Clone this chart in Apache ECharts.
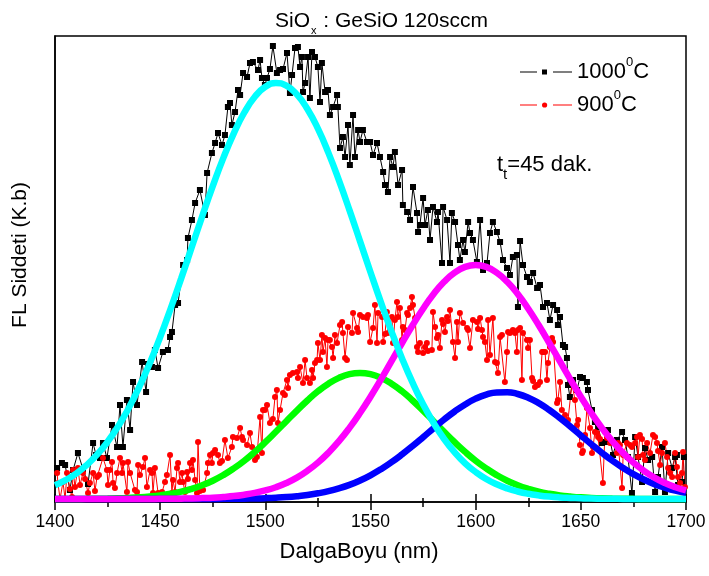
<!DOCTYPE html>
<html>
<head>
<meta charset="utf-8">
<script src="https://cdn.jsdelivr.net/npm/echarts@6/dist/echarts.min.js"></script>
<style>html,body{margin:0;padding:0;background:#fff}#c{width:709px;height:576px}</style>
</head>
<body>
<div id="c"></div>
<script>
// ---- DATA ----
const xTicks = [1400, 1450, 1500, 1550, 1600, 1650, 1700];
const seriesNames = ['1000°C', '900°C'];

// measured spectrum, 1000 C  [wavelength nm, intensity a.u.]
const black1000 = [[1401.0,31],[1403.3,36],[1404.8,34],[1407.1,9],[1408.6,29],[1410.9,46],[1413.3,30],[1415.7,15],[1418.1,56],[1419.5,44],[1421.4,41],[1422.8,56],[1424.7,41],[1427.1,74],[1429.5,52],[1430.9,94],[1432.3,52],[1434.2,99],[1435.7,69],[1437.1,117],[1439.0,94],[1441.4,137],[1443.3,107],[1444.2,135],[1446.1,132],[1447.5,149],[1449.0,131],[1451.3,147],[1453.7,149],[1454.7,162],[1455.6,167],[1457.1,194],[1458.5,196],[1460.9,234],[1462.8,239],[1463.2,261],[1465.1,279],[1466.6,296],[1468.9,309],[1471.3,284],[1472.3,326],[1474.6,346],[1476.1,356],[1477.5,366],[1479.4,354],[1480.8,364],[1482.2,392],[1483.2,396],[1484.1,374],[1485.6,387],[1487.0,409],[1488.0,404],[1489.4,426],[1491.3,422],[1492.7,436],[1494.1,437],[1496.5,429],[1497.5,439],[1498.4,421],[1499.8,414],[1500.8,421],[1502.2,430],[1503.6,453],[1505.5,426],[1507.0,429],[1508.4,430],[1510.3,446],[1511.7,406],[1512.7,424],[1514.1,451],[1515.5,452],[1516.5,432],[1517.4,442],[1517.9,407],[1518.9,416],[1520.3,442],[1521.2,401],[1522.2,447],[1523.6,442],[1525.0,432],[1526.0,397],[1526.9,436],[1528.4,407],[1529.8,409],[1530.7,384],[1532.2,392],[1534.1,404],[1534.5,392],[1535.5,351],[1536.9,362],[1537.9,342],[1539.3,374],[1540.2,334],[1541.7,384],[1542.6,342],[1544.1,369],[1545.0,357],[1546.4,369],[1548.3,357],[1549.8,357],[1551.2,344],[1553.1,356],[1554.5,342],[1556.0,327],[1556.9,314],[1558.3,307],[1559.3,342],[1560.7,332],[1561.6,347],[1563.1,314],[1565.0,329],[1565.4,294],[1567.4,287],[1568.8,279],[1570.2,312],[1572.1,286],[1572.6,267],[1573.5,274],[1575.0,301],[1575.9,274],[1577.3,289],[1578.3,259],[1579.7,292],[1581.6,277],[1582.1,287],[1584.0,236],[1584.5,292],[1586.4,279],[1587.8,236],[1588.7,286],[1590.2,277],[1591.6,254],[1592.5,239],[1594.0,259],[1594.9,247],[1596.4,277],[1597.3,266],[1598.7,259],[1600.6,237],[1602.1,279],[1603.5,229],[1605.4,236],[1606.8,266],[1608.2,277],[1610.1,267],[1611.6,257],[1613.0,239],[1614.9,231],[1616.3,224],[1617.7,242],[1619.6,244],[1620.1,192],[1621.1,258],[1622.5,234],[1624.4,222],[1625.8,217],[1627.3,226],[1629.2,211],[1630.6,214],[1632.0,192],[1633.9,196],[1635.3,179],[1636.8,194],[1638.7,189],[1639.1,174],[1640.1,182],[1641.5,154],[1642.5,152],[1643.4,141],[1643.9,114],[1644.8,102],[1646.3,119],[1648.2,109],[1649.6,122],[1651.0,121],[1652.9,117],[1653.4,109],[1655.3,89],[1656.7,77],[1658.2,72],[1660.1,56],[1661.5,57],[1662.9,69],[1665.3,44],[1667.2,59],[1669.6,67],[1671.0,59],[1672.4,42],[1674.3,6],[1675.8,62],[1677.2,42],[1679.1,17],[1680.5,51],[1682.0,39],[1683.9,42],[1685.3,7],[1686.7,22],[1688.6,52],[1690.0,7],[1691.5,46],[1693.4,31],[1694.8,42],[1695.7,44],[1696.2,14],[1698.1,17],[1699.0,42]];

// measured spectrum, 900 C
const red900 = [[1401.0,26],[1401.4,16],[1402.4,0],[1403.8,17],[1404.8,0],[1405.7,26],[1407.1,10],[1408.1,2],[1408.6,29],[1409.5,12],[1410.9,31],[1411.9,14],[1413.3,26],[1414.3,20],[1415.7,6],[1416.6,16],[1418.1,26],[1419.0,8],[1420.0,22],[1420.9,24],[1422.8,41],[1424.7,29],[1425.2,14],[1426.1,29],[1427.1,37],[1427.6,16],[1428.5,11],[1429.5,26],[1430.9,41],[1431.9,26],[1432.3,36],[1434.2,7],[1434.7,37],[1435.7,26],[1438.0,9],[1439.0,7],[1439.5,34],[1440.4,24],[1441.8,32],[1442.8,41],[1443.7,12],[1445.2,29],[1446.1,26],[1446.6,6],[1447.5,31],[1449.0,6],[1450.9,7],[1452.3,17],[1453.2,24],[1454.7,44],[1455.6,6],[1456.1,19],[1457.1,7],[1458.0,31],[1458.5,36],[1459.4,17],[1460.4,26],[1460.9,17],[1461.8,7],[1462.8,27],[1463.2,20],[1464.2,36],[1465.1,29],[1465.6,39],[1466.6,19],[1467.5,6],[1468.0,57],[1468.9,8],[1470.4,9],[1472.3,26],[1472.7,36],[1473.7,44],[1474.6,36],[1475.1,46],[1476.1,49],[1477.5,44],[1478.4,36],[1479.4,38],[1480.8,59],[1482.2,41],[1484.1,52],[1484.6,62],[1486.5,61],[1488.0,71],[1488.9,62],[1489.4,59],[1491.3,54],[1492.7,66],[1493.7,52],[1495.1,39],[1496.0,42],[1497.5,82],[1498.4,46],[1498.9,89],[1499.8,89],[1500.8,94],[1502.2,76],[1503.6,80],[1504.6,102],[1505.5,109],[1506.0,76],[1507.0,89],[1508.4,106],[1509.3,104],[1510.3,119],[1510.8,111],[1511.7,124],[1513.1,126],[1515.1,127],[1515.5,121],[1516.5,132],[1517.9,116],[1518.9,139],[1519.8,121],[1521.2,116],[1522.2,129],[1522.7,121],[1523.6,136],[1524.6,139],[1525.0,156],[1526.0,139],[1526.9,164],[1527.4,147],[1528.4,161],[1529.3,132],[1529.8,159],[1530.7,159],[1531.7,152],[1532.2,141],[1533.1,164],[1534.1,156],[1535.5,174],[1536.5,177],[1536.9,166],[1537.9,141],[1538.8,139],[1539.3,172],[1541.2,166],[1541.7,186],[1543.6,171],[1544.1,167],[1545.0,184],[1546.4,182],[1548.3,181],[1548.8,184],[1549.8,157],[1551.2,171],[1552.1,194],[1553.1,156],[1553.6,186],[1555.5,182],[1556.0,157],[1556.9,165],[1557.8,187],[1558.3,166],[1560.2,182],[1560.7,156],[1561.6,179],[1562.6,197],[1563.1,182],[1564.0,191],[1565.0,159],[1565.4,172],[1566.4,169],[1567.4,186],[1567.8,184],[1568.8,191],[1569.7,202],[1570.2,194],[1571.2,181],[1572.1,152],[1572.6,147],[1573.5,156],[1575.0,146],[1575.9,152],[1576.8,156],[1577.3,148],[1579.2,149],[1579.7,187],[1580.7,172],[1581.6,161],[1582.1,164],[1583.0,151],[1584.0,179],[1584.5,175],[1585.4,167],[1586.4,182],[1586.8,178],[1587.8,189],[1589.2,157],[1590.2,141],[1591.1,177],[1591.6,157],[1592.5,186],[1594.0,176],[1595.9,171],[1596.4,169],[1597.3,151],[1598.7,179],[1600.6,177],[1601.1,170],[1602.1,181],[1603.0,169],[1603.5,162],[1604.4,157],[1605.4,139],[1605.9,179],[1606.8,144],[1608.2,181],[1609.2,137],[1610.1,136],[1610.6,126],[1611.6,162],[1612.5,164],[1613.9,117],[1614.9,147],[1615.4,167],[1616.3,166],[1617.7,169],[1618.7,166],[1619.6,147],[1620.1,169],[1621.1,171],[1622.0,119],[1622.5,166],[1624.4,159],[1624.9,151],[1625.8,159],[1626.8,121],[1627.3,118],[1628.2,112],[1629.2,114],[1629.6,114],[1630.6,117],[1631.6,147],[1632.0,147],[1633.0,147],[1633.9,119],[1634.4,136],[1635.3,152],[1636.3,161],[1636.8,157],[1638.7,96],[1639.1,99],[1640.1,117],[1641.0,89],[1642.5,84],[1643.9,79],[1645.8,116],[1647.2,99],[1648.2,74],[1648.7,79],[1649.6,54],[1650.6,46],[1651.0,48],[1652.0,64],[1652.9,91],[1654.4,71],[1655.3,46],[1655.8,52],[1656.7,67],[1657.7,66],[1658.2,62],[1659.1,60],[1660.5,16],[1661.5,67],[1662.4,61],[1663.9,56],[1665.3,57],[1667.2,46],[1667.7,56],[1668.6,54],[1669.6,11],[1670.1,44],[1671.9,56],[1673.4,54],[1674.3,52],[1675.8,56],[1676.7,62],[1677.2,42],[1678.1,64],[1679.1,60],[1679.6,44],[1680.5,39],[1681.5,56],[1682.9,46],[1684.3,64],[1685.3,62],[1686.2,56],[1686.7,48],[1687.7,34],[1688.6,46],[1690.0,56],[1691.0,42],[1691.5,31],[1692.4,26],[1693.4,22],[1694.8,46],[1695.7,32],[1696.2,22],[1697.2,16],[1698.1,26],[1698.6,47],[1699.5,12]];

// fitted peak curves, sampled every 5 nm from 1400 to 1700
const fitStart = 1400, fitStep = 5;
const fitCyan = [13.7,18.8,25.4,33.8,44.3,57.2,72.6,90.7,111.8,135.6,161.9,190.5,220.6,251.7,282.8,312.8,340.9,365.7,386.5,402.2,412.2,416,413.4,404.6,390.0,370.3,346.1,318.6,288.9,257.9,226.8,196.4,167.4,140.6,116.3,94.7,76.0,60.0,46.7,35.7,27.0,20.0,14.7,10.6,7.5,5.2,3.6,2.4,1.6,1.1,0.7,0.4,0.3,0.2,0.1,0,0,0,0,0,0];
const fitGreen = [0.03,0.06,0.1,0.16,0.27,0.44,0.69,1.08,1.65,2.47,3.6,5.2,7.3,10.2,13.8,18.3,23.9,30.6,38.3,47.1,56.8,67.2,77.8,88.4,98.5,107.7,115.3,121.1,124.8,126,124.8,121.1,115.3,107.7,98.5,88.4,77.8,67.2,56.8,47.1,38.3,30.6,23.9,18.3,13.8,10.2,7.3,5.2,3.6,2.5,1.65,1.1,0.7,0.44,0.27,0.16,0.1,0.06,0.03,0.02,0.01];
const fitMagenta = [0,0,0,0,0.01,0.01,0.02,0.03,0.05,0.08,0.14,0.22,0.36,0.56,0.9,1.3,2.0,2.9,4.3,6.1,8.6,11.8,16.0,21.4,28.2,36.4,46.3,57.8,71.1,86.0,102.3,119.7,137.8,156.0,173.7,190.3,205.0,217.2,226.4,232.1,234,232.1,226.4,217.2,205.0,190.3,173.7,156.0,137.8,119.7,102.3,86.0,71.1,57.8,46.3,36.4,28.2,21.4,16.0,11.8,8.6];
const fitBlue = [0,0,0,0,0,0,0,0,0,0,0,0.01,0.02,0.03,0.05,0.08,0.13,0.21,0.34,0.54,0.84,1.28,1.9,2.8,4.0,5.7,7.8,10.6,14.1,18.5,23.7,29.8,36.8,44.6,53.0,61.8,70.8,79.5,87.5,94.6,100.4,104.4,106.6,106.8,105.0,101.3,95.9,89.0,81.1,72.5,63.6,54.8,46.3,38.3,31.2,24.9,19.5,14.9,11.3,8.3,6.0];

// ---- CHART ----
const FONT = 'Liberation Sans, Arial, sans-serif';
function fitSeries(vals, color) {
  return {
    type: 'line', data: vals.map((v, i) => [fitStart + i * fitStep, v]),
    showSymbol: false, smooth: true, silent: true,
    lineStyle: { color: color, width: 6.5 }, itemStyle: { color: color }, z: 5
  };
}
// legend icons: line - marker - line (with gaps)
const iconSquare = 'path://M0,2.5h17v1H0z M22,0.5h5v5h-5z M33,2.5h19v1H33z M0,0h0.01v6H0z';
const iconCircle = 'path://M0,2.5h17v1H0z M22,3a2.6,2.6 0 1,0 5.2,0a2.6,2.6 0 1,0 -5.2,0z M33,2.5h19v1H33z M0,0h0.01v6H0z';

const chart = echarts.init(document.getElementById('c'));
chart.setOption({
  animation: false,
  backgroundColor: '#fff',
  title: {
    text: '{a|SiO}{b|x}{a| : GeSiO 120sccm}',
    left: 270, top: 3,
    textStyle: { fontWeight: 'normal', rich: {
      a: { fontFamily: FONT, fontSize: 21, fontWeight: 'normal', color: '#000', lineHeight: 26 },
      b: { fontFamily: FONT, fontSize: 11, fontWeight: 'normal', color: '#000', verticalAlign: 'bottom', lineHeight: 26, padding: [0, 1, -2, 1] }
    } }
  },
  grid: { left: 55, right: 23, top: 36, bottom: 74, show: true, borderColor: '#000', borderWidth: 1.5 },
  legend: {
    orient: 'vertical', left: 520, top: 56, itemGap: 6, padding: 0,
    itemWidth: 52, itemHeight: 6,
    data: [{ name: seriesNames[0], icon: iconSquare }, { name: seriesNames[1], icon: iconCircle }],
    formatter: n => n.replace(/(\d+)°C/, '$1{s|0}C'),
    textStyle: { fontFamily: FONT, fontSize: 22, color: '#000',
      rich: { s: { fontFamily: FONT, fontSize: 13, color: '#000', verticalAlign: 'top', padding: [-5, 0, 0, 0] } } }
  },
  xAxis: [{
    type: 'value', min: 1400, max: 1700, interval: 50,
    axisLine: { onZero: false, lineStyle: { color: '#000', width: 1.5 } },
    axisTick: { show: true, length: 8, lineStyle: { color: '#000', width: 1.5 } },
    minorTick: { show: true, splitNumber: 2, length: 5, lineStyle: { color: '#000', width: 1.5 } },
    axisLabel: { color: '#000', fontFamily: FONT, fontSize: 17.5, margin: 11,
      formatter: v => xTicks.includes(v) ? String(v) : '' },
    splitLine: { show: false }
  }, {
    type: 'value', min: 1400, max: 1700, interval: 50, position: 'bottom',
    axisLine: { show: false, onZero: false },
    axisTick: { show: true, inside: true, length: 8, lineStyle: { color: '#000', width: 1.5 } },
    minorTick: { show: true, splitNumber: 2, length: 4, lineStyle: { color: '#000', width: 1.5 } },
    axisLabel: { show: false }, splitLine: { show: false }
  }],
  yAxis: {
    type: 'value', min: -3, max: 463,
    axisLine: { show: true, lineStyle: { color: '#000', width: 1.5 } },
    axisTick: { show: false }, axisLabel: { show: false }, splitLine: { show: false }
  },
  graphic: [{
    type: 'text', left: 497, top: 154,
    style: {
      text: '{a|t}{b|t}{a|=45 dak.}',
      rich: {
        a: { fontFamily: FONT, fontSize: 22, fill: '#000', lineHeight: 26 },
        b: { fontFamily: FONT, fontSize: 15, fill: '#000', verticalAlign: 'bottom', lineHeight: 26, padding: [0, 0, -4, 0] }
      }
    }
  }, {
    type: 'text', x: 359, y: 552,
    style: { text: 'DalgaBoyu (nm)', fontFamily: FONT, fontSize: 22, fill: '#000', align: 'center', verticalAlign: 'middle' }
  }, {
    type: 'text', x: 20, y: 255, rotation: Math.PI / 2,
    style: { text: 'FL Siddeti (K.b)', fontFamily: FONT, fontSize: 21, fill: '#000', align: 'center', verticalAlign: 'middle' }
  }],
  series: [
    { name: seriesNames[0], type: 'line', data: black1000, symbol: 'rect', symbolSize: 6,
      lineStyle: { color: '#000', width: 1 }, itemStyle: { color: '#000' }, z: 3 },
    { name: seriesNames[1], type: 'line', data: red900, symbol: 'circle', symbolSize: 6,
      lineStyle: { color: '#ff0000', width: 1 }, itemStyle: { color: '#ff0000' }, z: 3 },
    fitSeries(fitGreen, '#00ff00'),
    fitSeries(fitBlue, '#0000ff'),
    fitSeries(fitMagenta, '#ff00ff'),
    fitSeries(fitCyan, '#00ffff')
  ]
});
</script>
</body>
</html>
